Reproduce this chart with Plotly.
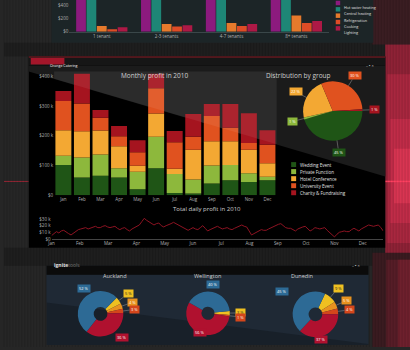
import math
import plotly.graph_objects as go

W, H = 410, 350


def fx(x):
    return x / W


def fy(y):
    return 1 - y / H


# ---------------- data ----------------
tenants = ["1 tenant", "2-3 tenants", "4-7 tenants", "8+ tenants"]
energy_names = ["Hot water heating", "Central heating", "Refrigeration", "Cooking", "Lighting"]
hot_water = [620, 660, 700, 760]
central_heating = [580, 610, 650, 720]
refrigeration = [90, 118, 133, 250]
cooking = [40, 80, 90, 133]
lighting = [70, 100, 118, 165]
energy_ticks = [0, 200, 400]
energy_ticktext = ["$0", "$200", "$400"]

months = ["Jan", "Feb", "Mar", "Apr", "May", "Jun", "Jul", "Aug", "Sep", "Oct", "Nov", "Dec"]
group_names = ["Wedding Event", "Private Function", "Hotel Conference", "University Event",
               "Charity & Fundraising"]
wedding = [102, 60, 66, 60, 20, 91, 8, 6, 40, 51, 45, 51]
private = [31, 67, 71, 31, 59, 106, 64, 47, 60, 51, 29, 11]
hotel = [86, 88, 81, 74, 20, 78, 17, 100, 82, 80, 79, 46]
university = [98, 94, 43, 34, 46, 85, 89, 44, 85, 45, 23, 62]
charity = [34, 100, 26, 34, 40, 49, 38, 76, 40, 80, 100, 49]
monthly_ticks = [0, 100, 200, 300, 400]
monthly_ticktext = ["$0", "$100 k", "$200 k", "$300 k", "$400 k"]

group_share = [45, 1, 22, 30, 1]

daily_profit = [
    5, 8, 11, 9, 12, 13, 10, 8, 6, 9, 12, 14, 15, 16, 17, 15, 16, 18, 19, 17,
    17, 19, 20, 18, 17, 18, 19, 16, 14, 16, 17, 14, 12, 15, 17, 19, 21, 26, 31, 28,
    26, 23, 21, 23, 24, 20, 18, 20, 21, 23, 25, 23, 21, 19, 17, 15, 13, 15, 17, 15,
    14, 17, 20, 16, 12, 14, 16, 18, 19, 17, 15, 16, 17, 15, 14, 16, 18, 20, 21, 19,
    18, 12, 6, 8, 10, 12, 14, 13, 13, 15, 17, 19, 21, 22, 23, 20, 17, 16, 16, 14,
    12, 15, 17, 18, 19, 15, 12, 14, 17, 16, 15, 16, 17, 13, 10, 6, 3, 7, 10, 11,
    12, 11, 11, 14, 16, 14, 12, 15, 17, 19, 21, 20, 19, 20, 21, 17, 12,
]
profit_ticks = [0, 10, 20, 30]
profit_ticktext = ["$0", "$10 k", "$20 k", "$30 k"]

cities = ["Auckland", "Wellington", "Dunedin"]
segment_names = ["Segment 1", "Segment 2", "Segment 3", "Segment 4", "Segment 5"]
auckland = [5, 4, 3, 36, 52]
wellington = [3, 0, 1, 56, 40]
dunedin = [9, 5, 4, 37, 45]

# ---------------- styles ----------------
FONT = "Open Sans"
energy_colors = ["#8c1a7e", "#1e8676", "#e67a2c", "#de4c26", "#ad1946"]
group_colors = ["#1f5516", "#8db83c", "#f3a833", "#e0521f", "#a5141f"]
city_colors = ["#efc021", "#e8921f", "#d4461b", "#b0112f", "#2d6a95"]

fig = go.Figure()

# top panel grouped bars
for name, vals, col in zip(energy_names, [hot_water, central_heating, refrigeration, cooking, lighting],
                           energy_colors):
    fig.add_trace(go.Bar(x=tenants, y=vals, name=name, marker=dict(color=col, line=dict(width=0)),
                         xaxis="x", yaxis="y"))

# middle stacked bars (explicit cumulative base)
base = [0] * len(months)
for name, vals, col in zip(group_names, [wedding, private, hotel, university, charity], group_colors):
    fig.add_trace(go.Bar(x=months, y=vals, base=list(base), name=name, offsetgroup="m",
                         width=0.86, offset=-0.43,
                         marker=dict(color=col, line=dict(width=0)), xaxis="x2", yaxis="y2"))
    base = [b + v for b, v in zip(base, vals)]

# line
n = len(daily_profit)
fig.add_trace(go.Scatter(x=list(range(n)), y=daily_profit, mode="lines",
                         line=dict(color="#8d1322", width=1), xaxis="x3", yaxis="y3"))

annotations = []
shapes = []


def pie_trace(values, names, colors, cx, cy, r, rot, hole=0.0):
    return go.Pie(values=values, labels=names, marker=dict(colors=colors, line=dict(width=0)),
                  sort=False, direction="clockwise", rotation=rot, hole=hole, textinfo="none",
                  domain=dict(x=[fx(cx - r), fx(cx + r)], y=[fy(cy + r), fy(cy - r)]))


def pie_labels(values, colors, cx, cy, r, rot, fac_big, fac_small, thresh, line_big, tcolors):
    total = float(sum(values))
    ang = rot
    for v, c, tc in zip(values, colors, tcolors):
        span = 360.0 * v / total
        mid = ang + span / 2
        ang += span
        if v == 0:
            continue
        a = math.radians(mid)
        sx, sy = math.sin(a), -math.cos(a)
        small = v / total < thresh
        fac = fac_small if small else fac_big
        lx, ly = cx + r * fac * sx, cy + r * fac * sy
        common = dict(text=f"{v} %", bgcolor=c, font=dict(size=4, color=tc, family=FONT),
                      borderpad=1, xref="paper", yref="paper")
        if small or line_big:
            x0, y0 = cx + r * sx, cy + r * sy
            annotations.append(dict(x=fx(x0), y=fy(y0), ax=lx - x0, ay=ly - y0, showarrow=True,
                                    arrowhead=0, arrowwidth=0.5, arrowcolor="#9a9a9a", standoff=0,
                                    **common))
        else:
            annotations.append(dict(x=fx(lx), y=fy(ly), showarrow=False, **common))


# middle pie
PC = (332, 112, 30, 90)
fig.add_trace(pie_trace(group_share, group_names, group_colors, *PC))
pie_labels(group_share, group_colors, *PC, 1.4, 1.4, 0.0, True, ["white"] * 5)

# donuts
donut_geo = [(97.5, 316.5, 23, 45, 1.4), (206, 316, 22, 84, 1.15), (314.5, 317, 23, 25, 1.4)]
dark_text = ["#222", "white", "white", "white", "white"]
for city, vals, (cx, cy, r, rot, fb) in zip(cities, [auckland, wellington, dunedin], donut_geo):
    fig.add_trace(pie_trace(vals, segment_names, city_colors, cx, cy, r, rot, hole=0.3))
    pie_labels(vals, city_colors, cx, cy, r, rot, fb, 1.5, 0.15, False, dark_text)
    annotations.append(dict(text=city, x=fx(cx), y=fy(284), xref="paper", yref="paper",
                            showarrow=False, font=dict(size=5.5, color="#cfcfcf", family=FONT)))

# ---------------- background shapes ----------------
def rect(x0, y0, x1, y1, fill, layer="below"):
    shapes.append(dict(type="rect", xref="paper", yref="paper", x0=fx(x0), x1=fx(x1),
                       y0=fy(y1), y1=fy(y0), fillcolor=fill, line=dict(width=0), layer=layer))


def poly(pts, fill, layer="below"):
    d = "M " + " L ".join(f"{fx(x):.5f},{fy(y):.5f}" for x, y in pts) + " Z"
    shapes.append(dict(type="path", xref="paper", yref="paper", path=d, fillcolor=fill,
                       line=dict(width=0), layer=layer))


def hline(x0, x1, y, color, w=1):
    shapes.append(dict(type="line", xref="paper", yref="paper", x0=fx(x0), x1=fx(x1), y0=fy(y),
                       y1=fy(y), line=dict(color=color, width=w), layer="below"))


# darker bands between panels
rect(0, 43, 410, 57, "#1e1e1e")
rect(0, 250, 410, 268, "#1e1e1e")

# right glow
rect(372, 0, 410, 45, "#3a1d22")
rect(385, 45, 410, 262, "#8e2236")
rect(387, 75, 410, 245, "#a8273f")
rect(390, 120, 410, 225, "#c02c48")
rect(394, 150, 410, 205, "#d83552")
rect(372, 255, 410, 350, "#3a1b20")
rect(386, 262, 410, 350, "#561d27")
rect(398, 262, 410, 350, "#6e202d")
hline(385, 410, 183, "#ff4060", 1.5)
hline(0, 25, 183, "rgba(200,40,60,0.7)", 1)

# stripes
for sx in range(0, 410, 3):
    shapes.append(dict(type="line", xref="paper", yref="paper", x0=fx(sx), x1=fx(sx), y0=0, y1=1,
                       line=dict(color="rgba(0,0,0,0.12)", width=1), layer="below"))

# top panel
rect(48, -2, 373, 43, "#1c2527")

# middle panel
rect(25, 57, 385, 250, "#000000")
poly([(25, 66), (385, 66), (385, 178), (25, 72)], "#1b1b1b")
rect(25, 57, 385, 66, "#161616")
hline(25, 385, 57.5, "#8b1a24", 1)
rect(27, 58.5, 61, 65, "#a3162a")
annotations.append(dict(text="Orange Catering", x=fx(44), y=fy(61.8), xref="paper", yref="paper",
                        showarrow=False, font=dict(size=3.6, color="white", family=FONT)))
annotations.append(dict(text="– ▪ ×", x=fx(376), y=fy(61.5), xref="paper", yref="paper",
                        showarrow=False, font=dict(size=4, color="#ccc", family=FONT)))

# bottom panel
rect(43, 268, 368, 348, "#182029")
poly([(43, 277), (368, 277), (368, 347), (43, 305)], "#1f2935")
rect(43, 268, 368, 277, "#0b0b0b")
annotations.append(dict(text="<b>ignite</b><span style='color:#777'>tools</span>", x=fx(48), y=fy(272.5),
                        xref="paper", yref="paper", xanchor="left", showarrow=False,
                        font=dict(size=5, color="#e0e0e0", family=FONT)))
annotations.append(dict(text="– ▪ ×", x=fx(362), y=fy(272.5), xref="paper", yref="paper",
                        showarrow=False, font=dict(size=4, color="#ccc", family=FONT)))

# glossy lightening of bars above the diagonal
poly([(50.6, 72), (275.4, 72), (275.4, 72 + (275.4 - 25) * 0.294), (50.6, 72 + 25.6 * 0.294)],
     "rgba(255,255,255,0.07)", layer="above")

# titles
for txt, x, y, s in [("Monthly profit in 2010", 152, 70, 6.5), ("Distribution by group", 332, 70, 6.5),
                     ("Total daily profit in 2010", 205, 211, 6)]:
    annotations.append(dict(text=txt, x=fx(x), y=fy(y), xref="paper", yref="paper", showarrow=False,
                            font=dict(size=s, color="#cfcfcf", family=FONT)))


# custom legends
def legend(names, colors, x, y0, dy, size, fs):
    for i, (nm, c) in enumerate(zip(names, colors)):
        y = y0 + i * dy
        rect(x, y - size / 2, x + size, y + size / 2, c, layer="above")
        annotations.append(dict(text=nm, x=fx(x + size + 2), y=fy(y), xref="paper", yref="paper",
                                xanchor="left", showarrow=False,
                                font=dict(size=fs, color="#e0e0e0", family=FONT)))


legend(energy_names, energy_colors, 335, 3, 6.4, 4.5, 3.8)
legend(group_names, group_colors, 290, 166, 7.1, 5, 4.5)

axis_common = dict(showgrid=False, zeroline=False, ticks="", color="#b0b0b0",
                   tickfont=dict(size=4.5, family=FONT, color="#b0b0b0"))

fig.update_layout(
    width=W, height=H, margin=dict(l=0, r=0, t=0, b=0),
    paper_bgcolor="#262626", plot_bgcolor="rgba(0,0,0,0)", showlegend=False,
    barmode="group", bargap=0.2, bargroupgap=0.06,
    font=dict(family=FONT, color="#ccc", size=5),
    xaxis=dict(domain=[fx(66), fx(328)], anchor="y", showline=True, linecolor="#3a4749",
               linewidth=0.5, **axis_common),
    yaxis=dict(domain=[fy(32), 1], range=[0, 490], tickvals=energy_ticks, ticktext=energy_ticktext,
               anchor="x", **axis_common),
    xaxis2=dict(domain=[fx(50.6), fx(275.4)], anchor="y2", **axis_common),
    yaxis2=dict(domain=[fy(197), fy(72)], range=[0, 416.7], tickvals=monthly_ticks,
                ticktext=monthly_ticktext, anchor="x2", **axis_common),
    xaxis3=dict(domain=[fx(48), fx(383)], anchor="y3", range=[0, n - 1],
                tickvals=[i * (n - 1) / 11.73 for i in range(12)], ticktext=months,
                showline=True, linecolor="#444", linewidth=0.7, **axis_common),
    yaxis3=dict(domain=[fy(241), fy(216)], range=[0, 37.3], tickvals=profit_ticks,
                ticktext=profit_ticktext, anchor="x3", **axis_common),
    shapes=shapes, annotations=annotations,
)

fig.write_html("out.html")
